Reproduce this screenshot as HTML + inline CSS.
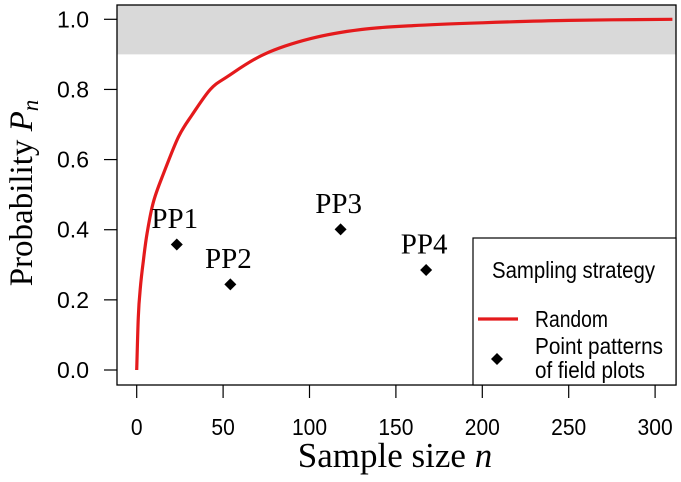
<!DOCTYPE html>
<html><head><meta charset="utf-8"><style>
body{margin:0;background:#fff}
svg{display:block}
.t{font-family:"Liberation Sans",sans-serif;font-size:23px;fill:#000}
.s{font-family:"Liberation Serif",serif;fill:#000}
</style></head><body>
<svg id="c" width="681" height="482"></svg>
<script>
const curveN=[0,0.9,2,3.8,6,9.7,15.5,24.2,32,42.6,52.3,73.6,100.7,130,160,200,250,310];
const curveP=[0,0.15,0.23,0.31,0.39,0.48,0.56,0.665,0.727,0.80,0.836,0.90,0.945,0.971,0.982,0.99,0.997,1.0];
const ppLabels=["PP1","PP2","PP3","PP4"];
const ppN=[23.2,54.2,118,167.5];
const ppP=[0.358,0.244,0.401,0.285];
const xTicks=[0,50,100,150,200,250,300];
const yTicks=[0,0.2,0.4,0.6,0.8,1.0];
const yTickLabels=["0.0","0.2","0.4","0.6","0.8","1.0"];
const thresh=0.9;

const L=117,R=676,T=5,B=385;
const X=n=>136.7+n*1.728;
const Y=p=>370-p*350.7;
const svg=document.getElementById('c');
const NS='http://www.w3.org/2000/svg';
function mk(tag,attrs,parent){const e=document.createElementNS(NS,tag);for(const k in attrs)e.setAttribute(k,attrs[k]);(parent||svg).appendChild(e);return e;}

let band=mk('rect',{x:L,y:T,width:R-L,height:Y(thresh)-T,fill:'#d9d9d9'});



const P=curveN.map((n,i)=>[X(n),Y(curveP[i])]);
let d='M'+P[0][0]+','+P[0][1];
for(let i=0;i<P.length-1;i++){
  const p0=P[Math.max(0,i-1)],p1=P[i],p2=P[i+1],p3=P[Math.min(P.length-1,i+2)];
  const c1=[p1[0]+(p2[0]-p0[0])/6,p1[1]+(p2[1]-p0[1])/6];
  const c2=[p2[0]-(p3[0]-p1[0])/6,p2[1]-(p3[1]-p1[1])/6];
  d+=` C${c1[0].toFixed(1)},${c1[1].toFixed(1)} ${c2[0].toFixed(1)},${c2[1].toFixed(1)} ${p2[0].toFixed(1)},${p2[1].toFixed(1)}`;
}
let cp=mk('clipPath',{id:'cl'});mk('rect',{x:L,y:T,width:R-L,height:B-T},cp);
let line=mk('path',{d:d,fill:'none',stroke:'#e41a1c','stroke-width':3.2,'stroke-linejoin':'round','clip-path':'url(#cl)'});



ppN.forEach((n,i)=>{
  const x=X(n),y=Y(ppP[i]);
  let pt=mk('path',{d:`M${x},${y-6} L${x+6},${y} L${x},${y+6} L${x-6},${y} Z`,fill:'#000'});
  
  
  let tx=mk('text',{x:x-2,y:y-16.5,'text-anchor':'middle',class:'s','font-size':29});
  tx.textContent=ppLabels[i];
  
  
});

let fr=mk('rect',{x:L,y:T,width:R-L,height:B-T,fill:'none',stroke:'#000','stroke-width':1.3});



xTicks.forEach(v=>{
  mk('line',{x1:X(v),x2:X(v),y1:B,y2:B+13,stroke:'#000','stroke-width':1.2});
  const s=String(v);
  let t=mk('text',{x:X(v),y:435,'text-anchor':'middle',class:'t',textLength:s.length*11.7,lengthAdjust:'spacingAndGlyphs'});t.textContent=s;
  
  
});
yTicks.forEach((v,i)=>{
  mk('line',{x1:L,x2:L-13,y1:Y(v),y2:Y(v),stroke:'#000','stroke-width':1.2});
  let t=mk('text',{x:89,y:Y(v)+8,'text-anchor':'end',class:'t',textLength:32,lengthAdjust:'spacingAndGlyphs'});t.textContent=yTickLabels[i];
  
  
});

let xt=mk('text',{x:395,y:467,'text-anchor':'middle',class:'s','font-size':35});
xt.innerHTML='Sample size <tspan font-style="italic">n</tspan>';


let yt=mk('text',{x:0,y:0,'text-anchor':'middle',class:'s','font-size':33,transform:'translate(32,193) rotate(-90)'});
yt.innerHTML='Probability <tspan font-style="italic">P</tspan><tspan font-style="italic" font-size="23" dy="6">n</tspan>';



let lg=mk('g',{});


mk('rect',{x:473,y:238,width:R-473,height:B-238,fill:'#fff',stroke:'#000','stroke-width':1.2},lg);
let lt=mk('text',{x:492,y:278,class:'t','font-size':19,textLength:163,lengthAdjust:'spacingAndGlyphs'},lg);lt.textContent='Sampling strategy';
mk('line',{x1:478,x2:518,y1:319,y2:319,stroke:'#e41a1c','stroke-width':3.2},lg);
let l1=mk('text',{x:535,y:327,class:'t','font-size':19,textLength:73,lengthAdjust:'spacingAndGlyphs'},lg);l1.textContent='Random';
mk('path',{d:'M497,353 L503,359 L497,365 L491,359 Z',fill:'#000'},lg);
let l2=mk('text',{x:535,y:354,class:'t','font-size':19,textLength:128,lengthAdjust:'spacingAndGlyphs'},lg);l2.textContent='Point patterns';
let l3=mk('text',{x:535,y:378,class:'t','font-size':19,textLength:110,lengthAdjust:'spacingAndGlyphs'},lg);l3.textContent='of field plots';
</script>
</body></html>
